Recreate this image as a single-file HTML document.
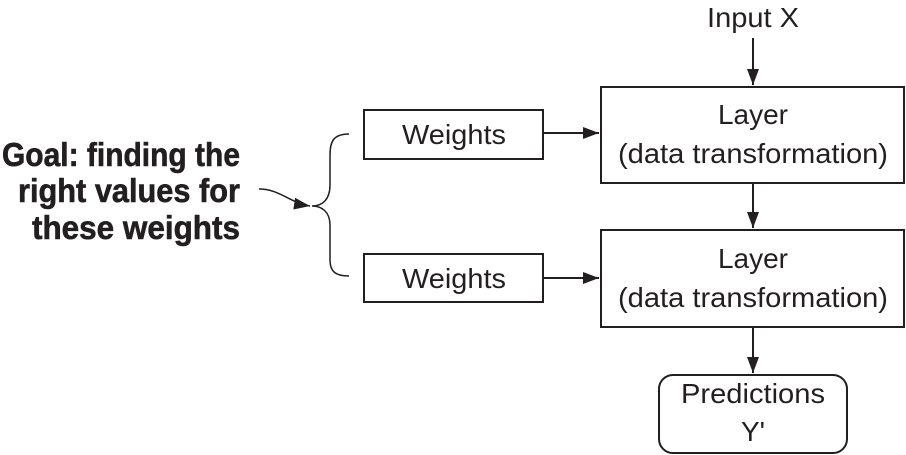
<!DOCTYPE html>
<html><head><meta charset="utf-8"><style>html,body{margin:0;padding:0;background:#fff}svg{display:block}</style></head>
<body>
<svg width="906" height="455" viewBox="0 0 906 455" xmlns="http://www.w3.org/2000/svg">
<defs>
<marker id="a" markerWidth="16" markerHeight="12" refX="16" refY="6" orient="auto" markerUnits="userSpaceOnUse">
<path d="M0,0 L16,6 L0,12 Z" fill="#231f20"/>
</marker>
</defs>
<g font-family="Liberation Sans, sans-serif" fill="#231f20" stroke="none">
<g font-weight="bold" font-size="33" text-anchor="end" stroke="#231f20" stroke-width="0.6">
<text x="240" y="166" textLength="238" lengthAdjust="spacingAndGlyphs">Goal: finding the</text>
<text x="240" y="202" textLength="222" lengthAdjust="spacingAndGlyphs">right values for</text>
<text x="240" y="239" textLength="208" lengthAdjust="spacingAndGlyphs">these weights</text>
</g>
<g font-size="28" text-anchor="middle">
<text x="753" y="27" textLength="92" lengthAdjust="spacingAndGlyphs">Input X</text>
<text x="753" y="124">Layer</text>
<text x="753" y="163" textLength="270" lengthAdjust="spacingAndGlyphs">(data transformation)</text>
<text x="753" y="268">Layer</text>
<text x="753" y="307" textLength="270" lengthAdjust="spacingAndGlyphs">(data transformation)</text>
<text x="753" y="403" textLength="144" lengthAdjust="spacingAndGlyphs">Predictions</text>
<text x="753" y="441">Y'</text>
<text x="454" y="144" textLength="104" lengthAdjust="spacingAndGlyphs">Weights</text>
<text x="454" y="288" textLength="104" lengthAdjust="spacingAndGlyphs">Weights</text>
</g>
</g>
<g fill="none" stroke="#231f20" stroke-width="2">
<rect x="601" y="87" width="303" height="96"/>
<rect x="601" y="230" width="303" height="97"/>
<rect x="659" y="375" width="188" height="78" rx="14"/>
<rect x="364" y="110" width="179" height="49"/>
<rect x="364" y="254" width="179" height="48"/>
<line x1="753" y1="38" x2="753" y2="85" marker-end="url(#a)"/>
<line x1="753" y1="183" x2="753" y2="228" marker-end="url(#a)"/>
<line x1="753" y1="327" x2="753" y2="373" marker-end="url(#a)"/>
<line x1="543" y1="133" x2="599" y2="133" marker-end="url(#a)"/>
<line x1="543" y1="278" x2="599" y2="278" marker-end="url(#a)"/>
<path d="M349,134 C333,134 330,142 330,155 L330,185 C330,200 322,206 312,206 C322,206 330,212 330,225 L330,260 C330,272 336,276 349,276" stroke-width="1.5"/>
<path d="M259,189 C280,189 290,203 310,206" stroke-width="1.5" marker-end="url(#a)"/>
</g>
</svg>
</body></html>
